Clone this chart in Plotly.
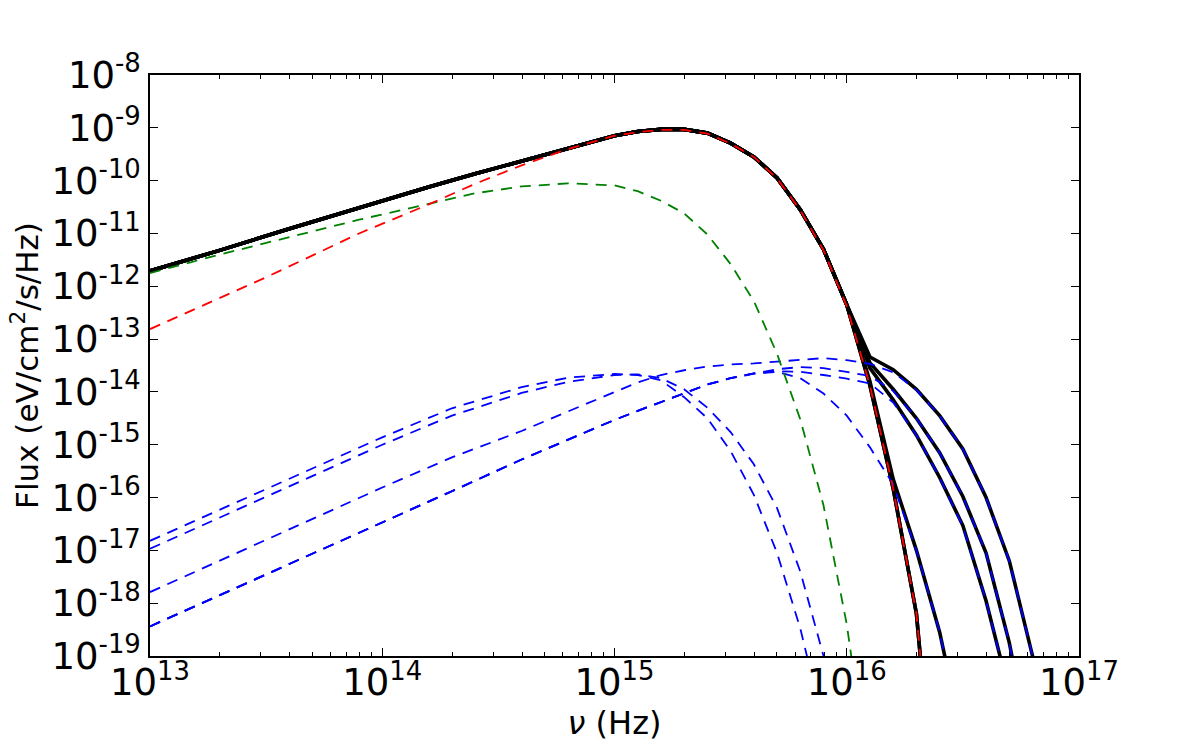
import plotly.graph_objects as go

# ---- data (log10 of frequency in Hz, log10 of flux in eV/cm^2/s/Hz) ----
red_logx = [13.0, 13.5, 13.9, 14.2, 14.4, 14.6, 14.8, 15.0, 15.1, 15.2, 15.3, 15.4, 15.5,
            15.6, 15.7, 15.8, 15.9, 16.0, 16.1, 16.2, 16.3, 16.4]
red_logy = [-12.81, -11.83, -11.00, -10.45, -10.06, -9.71, -9.40, -9.15, -9.08, -9.04, -9.04,
            -9.11, -9.30, -9.55, -9.96, -10.56, -11.32, -12.38, -13.88, -15.83, -18.2, -23.0]

green_logx = [13.0, 13.3, 13.6, 13.9, 14.2, 14.4, 14.6, 14.8, 15.0, 15.1, 15.2, 15.3,
              15.4, 15.5, 15.6, 15.7, 15.8, 15.9, 16.0, 16.1]
green_logy = [-11.75, -11.40, -11.07, -10.74, -10.44, -10.24, -10.11, -10.05, -10.09,
              -10.20, -10.38, -10.62, -11.02, -11.58, -12.28, -13.28, -14.52, -16.15,
              -18.4, -21.5]

blue_logx = [13.0, 13.5, 14.0, 14.3, 14.6, 14.8, 15.0, 15.1, 15.2, 15.3, 15.4, 15.5,
             15.6, 15.7, 15.8, 15.9, 16.0, 16.1, 16.2, 16.3, 16.4, 16.5, 16.6, 16.7,
             16.8, 16.9]
blue_a_logy = [-16.82, -15.84, -14.86, -14.31, -13.91, -13.73, -13.66, -13.68, -13.78,
               -14.10, -14.50, -15.12, -15.95, -17.05, -18.48, -20.3]
blue_b_logy = [-16.97, -15.98, -15.00, -14.45, -14.02, -13.81, -13.68, -13.67, -13.74,
               -13.95, -14.30, -14.76, -15.37, -16.20, -17.40, -19.0, -21.0]
blue_c_logy = [-17.79, -16.80, -15.81, -15.24, -14.74, -14.37, -14.00, -13.82, -13.68,
               -13.59, -13.52, -13.48, -13.46, -13.43, -13.39, -13.36, -13.40, -13.47,
               -13.63, -13.96, -14.45, -15.08, -16.00, -17.20, -19.0, -21.5]
blue_def_logy = [-18.44, -17.46, -16.48, -15.88, -15.28, -14.90, -14.53, -14.36, -14.19,
                 -14.02, -13.86, -13.74, -13.65]
blue_d_tail = [-13.61, -13.62, -13.68, -13.75, -13.84, -14.20, -14.82, -15.62, -16.55,
               -17.96, -19.7]
blue_e_tail = [-13.57, -13.53, -13.55, -13.62, -13.70, -13.98, -14.50, -15.15, -15.98,
               -17.05, -18.75, -21.0]
blue_f_tail = [-13.62, -13.74, -14.03, -14.45, -15.05, -15.75, -17.0, -18.55, -20.6]

black_body_logx = [13.0, 13.3, 13.6, 13.9, 14.2, 14.4, 14.6, 14.8, 15.0, 15.1, 15.2, 15.3,
                   15.4, 15.5, 15.6, 15.7, 15.8, 15.9, 16.0]
black_body_logy = [-11.71, -11.32, -10.91, -10.51, -10.12, -9.87, -9.63, -9.38, -9.15,
                   -9.07, -9.03, -9.03, -9.10, -9.29, -9.55, -9.95, -10.55, -11.30, -12.35]
black_tail_logx = [16.1, 16.2, 16.3, 16.4, 16.5, 16.6, 16.7, 16.8, 16.9]
black_a_tail = [-13.88, -15.83, -18.2, -23.0]
black_b_tail = [-13.88, -15.83, -18.2, -23.0]
black_f_tail = [-13.80, -15.65, -17.0, -18.55, -20.6]
black_d_tail = [-13.55, -14.15, -14.82, -15.62, -16.53, -17.96, -19.7]
black_e_tail = [-13.45, -13.95, -14.50, -15.15, -15.98, -17.05, -18.75, -21.0]
black_c_tail = [-13.34, -13.58, -13.95, -14.45, -15.08, -16.00, -17.20, -19.00, -21.5]

x_tick_exps = [13, 14, 15, 16, 17]
y_tick_exps = [-19, -18, -17, -16, -15, -14, -13, -12, -11, -10, -9, -8]
minor_mults = [2, 3, 4, 5, 6, 7, 8, 9]


def pw(vals):
    return [10.0 ** v for v in vals]


fig = go.Figure()

# total (black) curves
for tail in [black_a_tail, black_b_tail, black_f_tail, black_d_tail, black_e_tail, black_c_tail]:
    lx = black_body_logx + black_tail_logx[:len(tail)]
    ly = black_body_logy + tail
    fig.add_trace(go.Scatter(x=pw(lx), y=pw(ly), mode="lines",
                             line=dict(color="black", width=3.6), showlegend=False))

dash = "11px,8px"
blue_sets = [
    blue_a_logy,
    blue_b_logy,
    blue_c_logy,
    blue_def_logy + blue_d_tail,
    blue_def_logy + blue_e_tail,
    blue_def_logy + blue_f_tail,
]
for ly in blue_sets:
    fig.add_trace(go.Scatter(x=pw(blue_logx[:len(ly)]), y=pw(ly), mode="lines",
                             line=dict(color="#0000ff", width=1.8, dash=dash),
                             showlegend=False))

fig.add_trace(go.Scatter(x=pw(green_logx), y=pw(green_logy), mode="lines",
                         line=dict(color="#008000", width=1.8, dash=dash), showlegend=False))
fig.add_trace(go.Scatter(x=pw(red_logx), y=pw(red_logy), mode="lines",
                         line=dict(color="#ff0000", width=1.8, dash=dash), showlegend=False))

tickfont = dict(family="DejaVu Sans", size=37, color="black")
minor_x = [m * 10.0 ** e for e in x_tick_exps[:-1] for m in minor_mults]

fig.update_layout(
    width=1200, height=750,
    margin=dict(l=150, r=121, t=75, b=94),
    paper_bgcolor="white", plot_bgcolor="white",
    font=dict(family="DejaVu Sans", color="black"),
)
fig.update_xaxes(
    type="log", range=[13, 17],
    tickvals=[10.0 ** e for e in x_tick_exps],
    ticktext=["10<sup>%d</sup>" % e for e in x_tick_exps],
    tickfont=tickfont,
    ticklabelstandoff=-7,
    ticks="inside", ticklen=8, tickwidth=1, tickcolor="black",
    minor=dict(tickvals=minor_x, ticks="inside", ticklen=4, tickwidth=1,
               tickcolor="black", showgrid=False),
    showline=True, linecolor="black", linewidth=1.5, mirror="allticks",
    showgrid=False, zeroline=False,
    title=dict(text="<i>ν</i> (Hz)", font=dict(family="DejaVu Sans", size=32), standoff=2),
)
fig.update_yaxes(
    type="log", range=[-19, -8],
    tickvals=[10.0 ** e for e in y_tick_exps],
    ticktext=["10<sup>%d</sup>" % e for e in y_tick_exps],
    tickfont=tickfont,
    ticks="inside", ticklen=8, tickwidth=1, tickcolor="black",
    showline=True, linecolor="black", linewidth=1.5, mirror="allticks",
    showgrid=False, zeroline=False,
    title=dict(text="Flux (eV/cm<sup>2</sup>/s/Hz)", font=dict(family="DejaVu Sans", size=31),
               standoff=4),
)

fig.write_html("out.html")
